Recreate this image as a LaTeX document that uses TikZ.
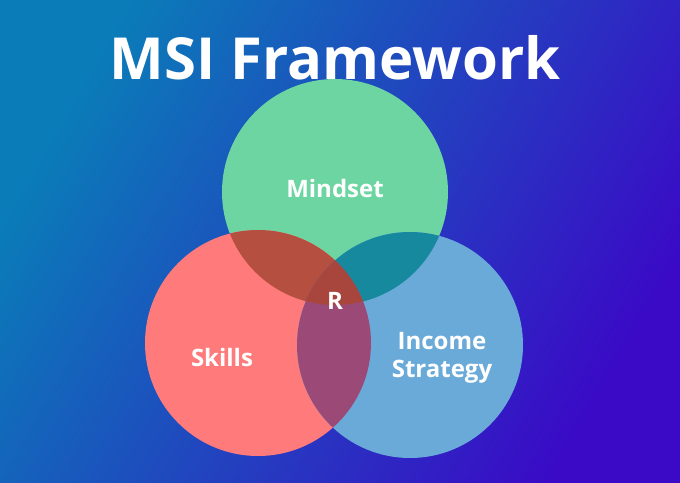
\documentclass[tikz,border=0pt]{standalone}
\usepackage{fontspec}
\setmainfont{Open Sans}
\definecolor{bgA}{HTML}{0A7CB8}
\definecolor{bgB}{HTML}{3A0AC6}
\definecolor{mindC}{HTML}{6DD5A2}
\definecolor{skillC}{HTML}{FF7A7A}
\definecolor{incC}{HTML}{6AAAD9}
\definecolor{msC}{HTML}{B54F40}
\definecolor{miC}{HTML}{17899F}
\definecolor{siC}{HTML}{9B4A78}
\definecolor{allC}{HTML}{A8463E}
\begin{document}
\begin{tikzpicture}[x=1pt,y=-1pt,
                    lbl/.style={text=white, font=\bfseries\fontsize{24}{28}\selectfont, align=center}]
\useasboundingbox (0,0) rectangle (680,482);
\shade[shading=axis, left color=bgA, right color=bgB, shading angle=60] (0,0) rectangle (680,482);
\node[text=white, font=\bfseries\fontsize{58}{66}\selectfont] (title) at (335,58) {MSI Framework};
% circles
\coordinate (m) at (335,192);
\coordinate (s) at (258,343);
\coordinate (i) at (410,345);
\fill[mindC] (m) circle (113);
\fill[skillC] (s) circle (113);
\fill[incC] (i) circle (113);
% overlaps
\begin{scope}
  \clip (m) circle (113);
  \fill[msC] (s) circle (113);
  \fill[miC] (i) circle (113);
\end{scope}
\begin{scope}
  \clip (s) circle (113);
  \fill[siC] (i) circle (113);
  \clip (i) circle (113);
  \fill[allC] (m) circle (113);
\end{scope}
\node[lbl] (mind) at (335,188) {Mindset};
\node[lbl] (skill) at (222,357) {Skills};
\node[lbl] (inc) at (442,358) {Income\\Strategy};
\node[lbl] (r) at (335,301) {R};
\end{tikzpicture}
\end{document}
